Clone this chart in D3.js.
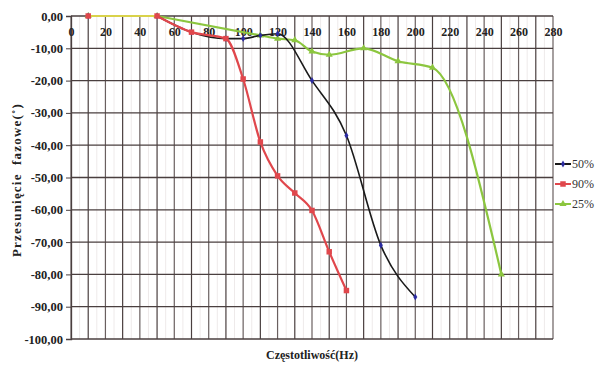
<!DOCTYPE html>
<html>
<head>
<meta charset="utf-8">
<script src="https://cdn.jsdelivr.net/npm/d3@7"></script>
<style>
  body { margin: 0; background: #fff; }
  svg { display: block; }
  text { font-family: "Liberation Serif", "Times New Roman", serif; }
</style>
</head>
<body>
<svg width="598" height="367"></svg>
<script>
// dane
var freq50 = [10, 50, 70, 90, 100, 110, 120, 140, 160, 180, 200];
var phase50 = [0, 0, -5, -7, -7, -6, -5.5, -20, -37, -71, -87];
var freq90 = [10, 50, 70, 90, 100, 110, 120, 130, 140, 150, 160];
var phase90 = [0, 0, -5, -7, -19.5, -39, -49.5, -54.8, -60.2, -73, -85];
var freq25 = [10, 50, 110, 120, 130, 140, 150, 170, 190, 210, 250];
var phase25 = [0, 0, -6, -7, -7.5, -11, -12, -10, -14, -16, -80];
var seriesNames = ['50%', '90%', '25%'];
var xTicks = d3.range(0, 281, 20);
var yTicks = d3.range(0, -101, -10);

var svg = d3.select('svg');
var pLeft = 71, pRight = 553, pTop = 16, pBottom = 339;

var x = d3.scaleLinear().domain([0, 280]).range([pLeft, pRight]);
var y = d3.scaleLinear().domain([0, -100]).range([pTop, pBottom]);

// siatka
var grid = svg.append('g');
grid.selectAll('line.minor').data(d3.range(5, 280, 10)).enter().append('line')
  .attr('x1', d => x(d)).attr('x2', d => x(d)).attr('y1', pTop).attr('y2', pBottom)
  .attr('stroke', '#eeeaea').attr('stroke-width', 1);
grid.selectAll('line.v').data(d3.range(0, 281, 10)).enter().append('line')
  .attr('x1', d => x(d)).attr('x2', d => x(d)).attr('y1', pTop).attr('y2', pBottom)
  .attr('stroke', (d, i) => i % 2 ? '#4a3f3f' : '#6a6060').attr('stroke-width', 1.2);
grid.selectAll('line.h').data(yTicks).enter().append('line')
  .attr('x1', pLeft).attr('x2', pRight).attr('y1', d => y(d)).attr('y2', d => y(d))
  .attr('stroke', '#4a3f3f').attr('stroke-width', 1.3);

// osie
var yAxis = d3.axisLeft(y).tickValues(yTicks).tickSize(5)
  .tickFormat(d => d3.format('.2f')(d).replace('.', ',').replace('−', '-'));
var gy = svg.append('g').attr('transform', 'translate(' + pLeft + ',0)').call(yAxis);
gy.select('.domain').attr('stroke', '#4a3f3f').attr('stroke-width', 1.3);
gy.selectAll('.tick line').attr('stroke', '#4a3f3f');
gy.selectAll('.tick text').attr('font-size', 12.5).attr('font-weight', 'bold')
  .attr('fill', '#222').attr('font-family', '"Liberation Serif", serif').attr('x', -8);

var xAxis = d3.axisBottom(x).tickValues(xTicks).tickSize(0).tickFormat(d3.format('d'));
var gx = svg.append('g').attr('transform', 'translate(0,' + pTop + ')').call(xAxis);
gx.select('.domain').remove();
gx.selectAll('.tick text').attr('font-size', 12).attr('font-weight', 'bold')
  .attr('fill', '#222').attr('font-family', '"Liberation Serif", serif').attr('dy', '0').attr('y', 20);

// serie
var line = d3.line().x(d => x(d[0])).y(d => y(d[1])).curve(d3.curveMonotoneX);
var series = [
  {name: seriesNames[0], pts: d3.zip(freq50, phase50), color: '#1a1a1a', mark: '#2b2ba0', shape: d3.symbolDiamond, size: 14},
  {name: seriesNames[1], pts: d3.zip(freq90, phase90), color: '#e0474c', mark: '#e0474c', shape: d3.symbolSquare, size: 30},
  {name: seriesNames[2], pts: d3.zip(freq25, phase25), color: '#8cc63f', mark: '#8cc63f', shape: d3.symbolTriangle, size: 22}
];

// żółtawy odcinek 10-50 (nakładające się serie)
svg.append('line').attr('x1', x(10)).attr('x2', x(50)).attr('y1', y(0)).attr('y2', y(0))
  .attr('stroke', '#d9d24a').attr('stroke-width', 2);

[series[2], series[0], series[1]].forEach(function(s) {
  var pts = s.pts.slice(1);
  svg.append('path').datum(pts).attr('d', line)
    .attr('fill', 'none').attr('stroke', s.color).attr('stroke-width', s.name === '50%' ? 1.6 : 2.2);
  svg.append('g').selectAll('path').data(s.pts).enter().append('path')
    .attr('d', d3.symbol().type(s.shape).size(s.size))
    .attr('transform', d => 'translate(' + x(d[0]) + ',' + y(d[1]) + ')')
    .attr('fill', s.mark);
});

// legenda
var leg = svg.append('g').selectAll('g').data(series).enter().append('g')
  .attr('transform', (d, i) => 'translate(555,' + [164, 184, 204][i] + ')');
leg.append('line').attr('x1', 0).attr('x2', 16).attr('stroke', d => d.color).attr('stroke-width', 2);
leg.append('path').attr('d', d => d3.symbol().type(d.shape).size(d.size)())
  .attr('transform', 'translate(8,0)').attr('fill', d => d.mark);
leg.append('text').attr('x', 17).attr('y', 4).attr('font-size', 12).attr('fill', '#333')
  .text(d => d.name);

// tytuły osi
svg.append('text').attr('transform', 'translate(21,' + 180 + ') rotate(-90)')
  .attr('text-anchor', 'middle').attr('font-size', 13).attr('font-weight', 'bold').attr('fill', '#222')
  .attr('letter-spacing', 1.2).attr('word-spacing', 4)
  .text('Przesunięcie fazowe(˚)');
svg.append('text').attr('x', 312).attr('y', 359)
  .attr('text-anchor', 'middle').attr('font-size', 12).attr('font-weight', 'bold').attr('fill', '#222')
  .text('Częstotliwość(Hz)');
</script>
</body>
</html>
